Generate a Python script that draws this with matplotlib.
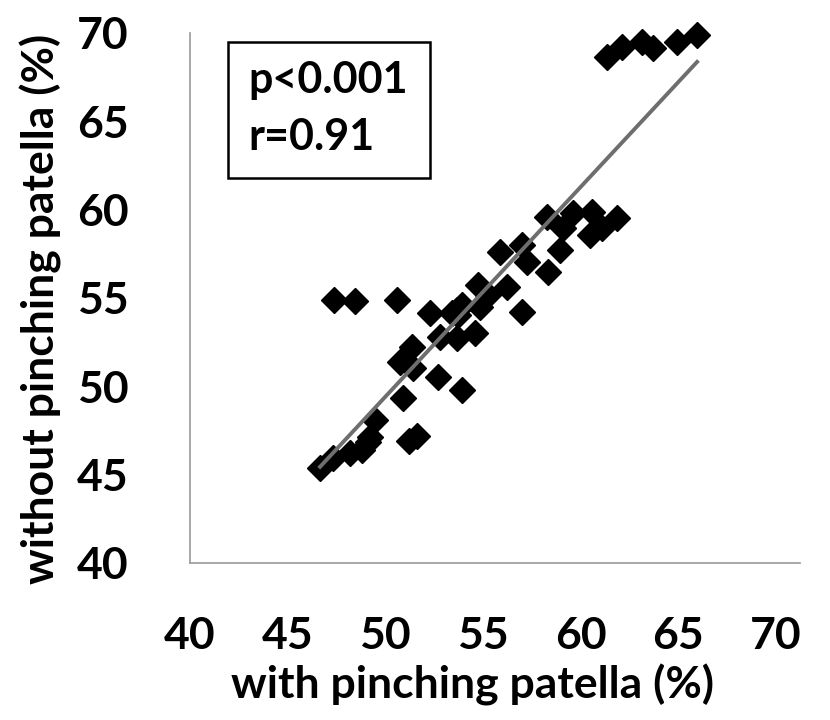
import numpy as np
import matplotlib
matplotlib.use("Agg")
import matplotlib.pyplot as plt
from matplotlib.patches import Rectangle

plt.rcParams['font.family'] = ['Lato', 'DejaVu Sans']
plt.rcParams['font.weight'] = 'bold'

# with pinching patella (%) vs without pinching patella (%)
with_pinch = [61.35, 62.12, 63.14, 63.71, 64.94, 65.96,
              58.28, 59.61, 60.58, 61.86, 59.10, 60.48, 61.10, 58.95, 58.33,
              55.87, 57.00, 57.26, 54.75, 55.26, 56.23, 53.67, 54.85, 53.93,
              57.00, 52.80, 53.67, 54.59, 52.29, 53.42, 50.60, 47.37, 48.45,
              51.37, 50.75, 51.42, 52.70, 53.93, 50.91, 49.47, 51.22, 51.63,
              46.66, 47.32, 48.19, 48.81, 49.11, 49.22, 53.70]
without_pinch = [68.64, 69.20, 69.49, 69.15, 69.49, 69.90,
                 59.58, 59.81, 59.86, 59.52, 58.96, 58.56, 58.96, 57.71, 56.47,
                 57.60, 58.00, 57.03, 55.73, 55.17, 55.62, 54.32, 54.49, 54.60,
                 54.20, 52.79, 52.73, 53.02, 54.15, 54.15, 54.88, 54.88, 54.83,
                 52.22, 51.38, 51.04, 50.53, 49.79, 49.34, 48.09, 46.90, 47.18,
                 45.38, 45.94, 46.23, 46.40, 46.85, 47.13, 54.05]

ticks = [40, 45, 50, 55, 60, 65, 70]

x = np.array(with_pinch)
y = np.array(without_pinch)

fig = plt.figure(figsize=(8.3, 7.2), dpi=100)
ax = fig.add_axes([0.2289, 0.2181, 0.735, 0.7361])

ax.plot(x, y, 'D', color='black', ms=13, mec='black', clip_on=False, zorder=3)

# linear trend line
k, b = np.polyfit(x, y, 1)
xs = np.array([x.min(), x.max()])
ax.plot(xs, k * xs + b, color='#6e6e6e', lw=2.8, zorder=4)

ax.set_xlim(40, 71.23)
ax.set_ylim(40, 70)
ax.set_xticks(ticks)
ax.set_yticks(ticks)
ax.tick_params(length=0, labelsize=32)
ax.tick_params(axis='x', pad=38)
ax.tick_params(axis='y', pad=44)
for lab in ax.get_xticklabels() + ax.get_yticklabels():
    lab.set_fontweight('bold')

for s in ['top', 'right']:
    ax.spines[s].set_visible(False)
for s in ['left', 'bottom']:
    ax.spines[s].set_color('#999999')
    ax.spines[s].set_linewidth(1.2)

ax.set_xlabel('with pinching patella (%)', fontsize=32, fontweight='bold')
ax.set_ylabel('without pinching patella (%)', fontsize=32, fontweight='bold')
ax.xaxis.set_label_coords(0.463, -0.19)
ax.yaxis.set_label_coords(-0.21, 0.48)

# stats box
fig.patches.append(Rectangle((0.2747, 0.7528), 0.2434, 0.1889, transform=fig.transFigure,
                             fill=False, edgecolor='black', lw=1.8))
fig.text(0.299, 0.889, 'p<0.001', fontsize=31, fontweight='bold', va='center', ha='left')
fig.text(0.299, 0.810, 'r=0.91', fontsize=31, fontweight='bold', va='center', ha='left')

fig.savefig('out.png', dpi=100)
